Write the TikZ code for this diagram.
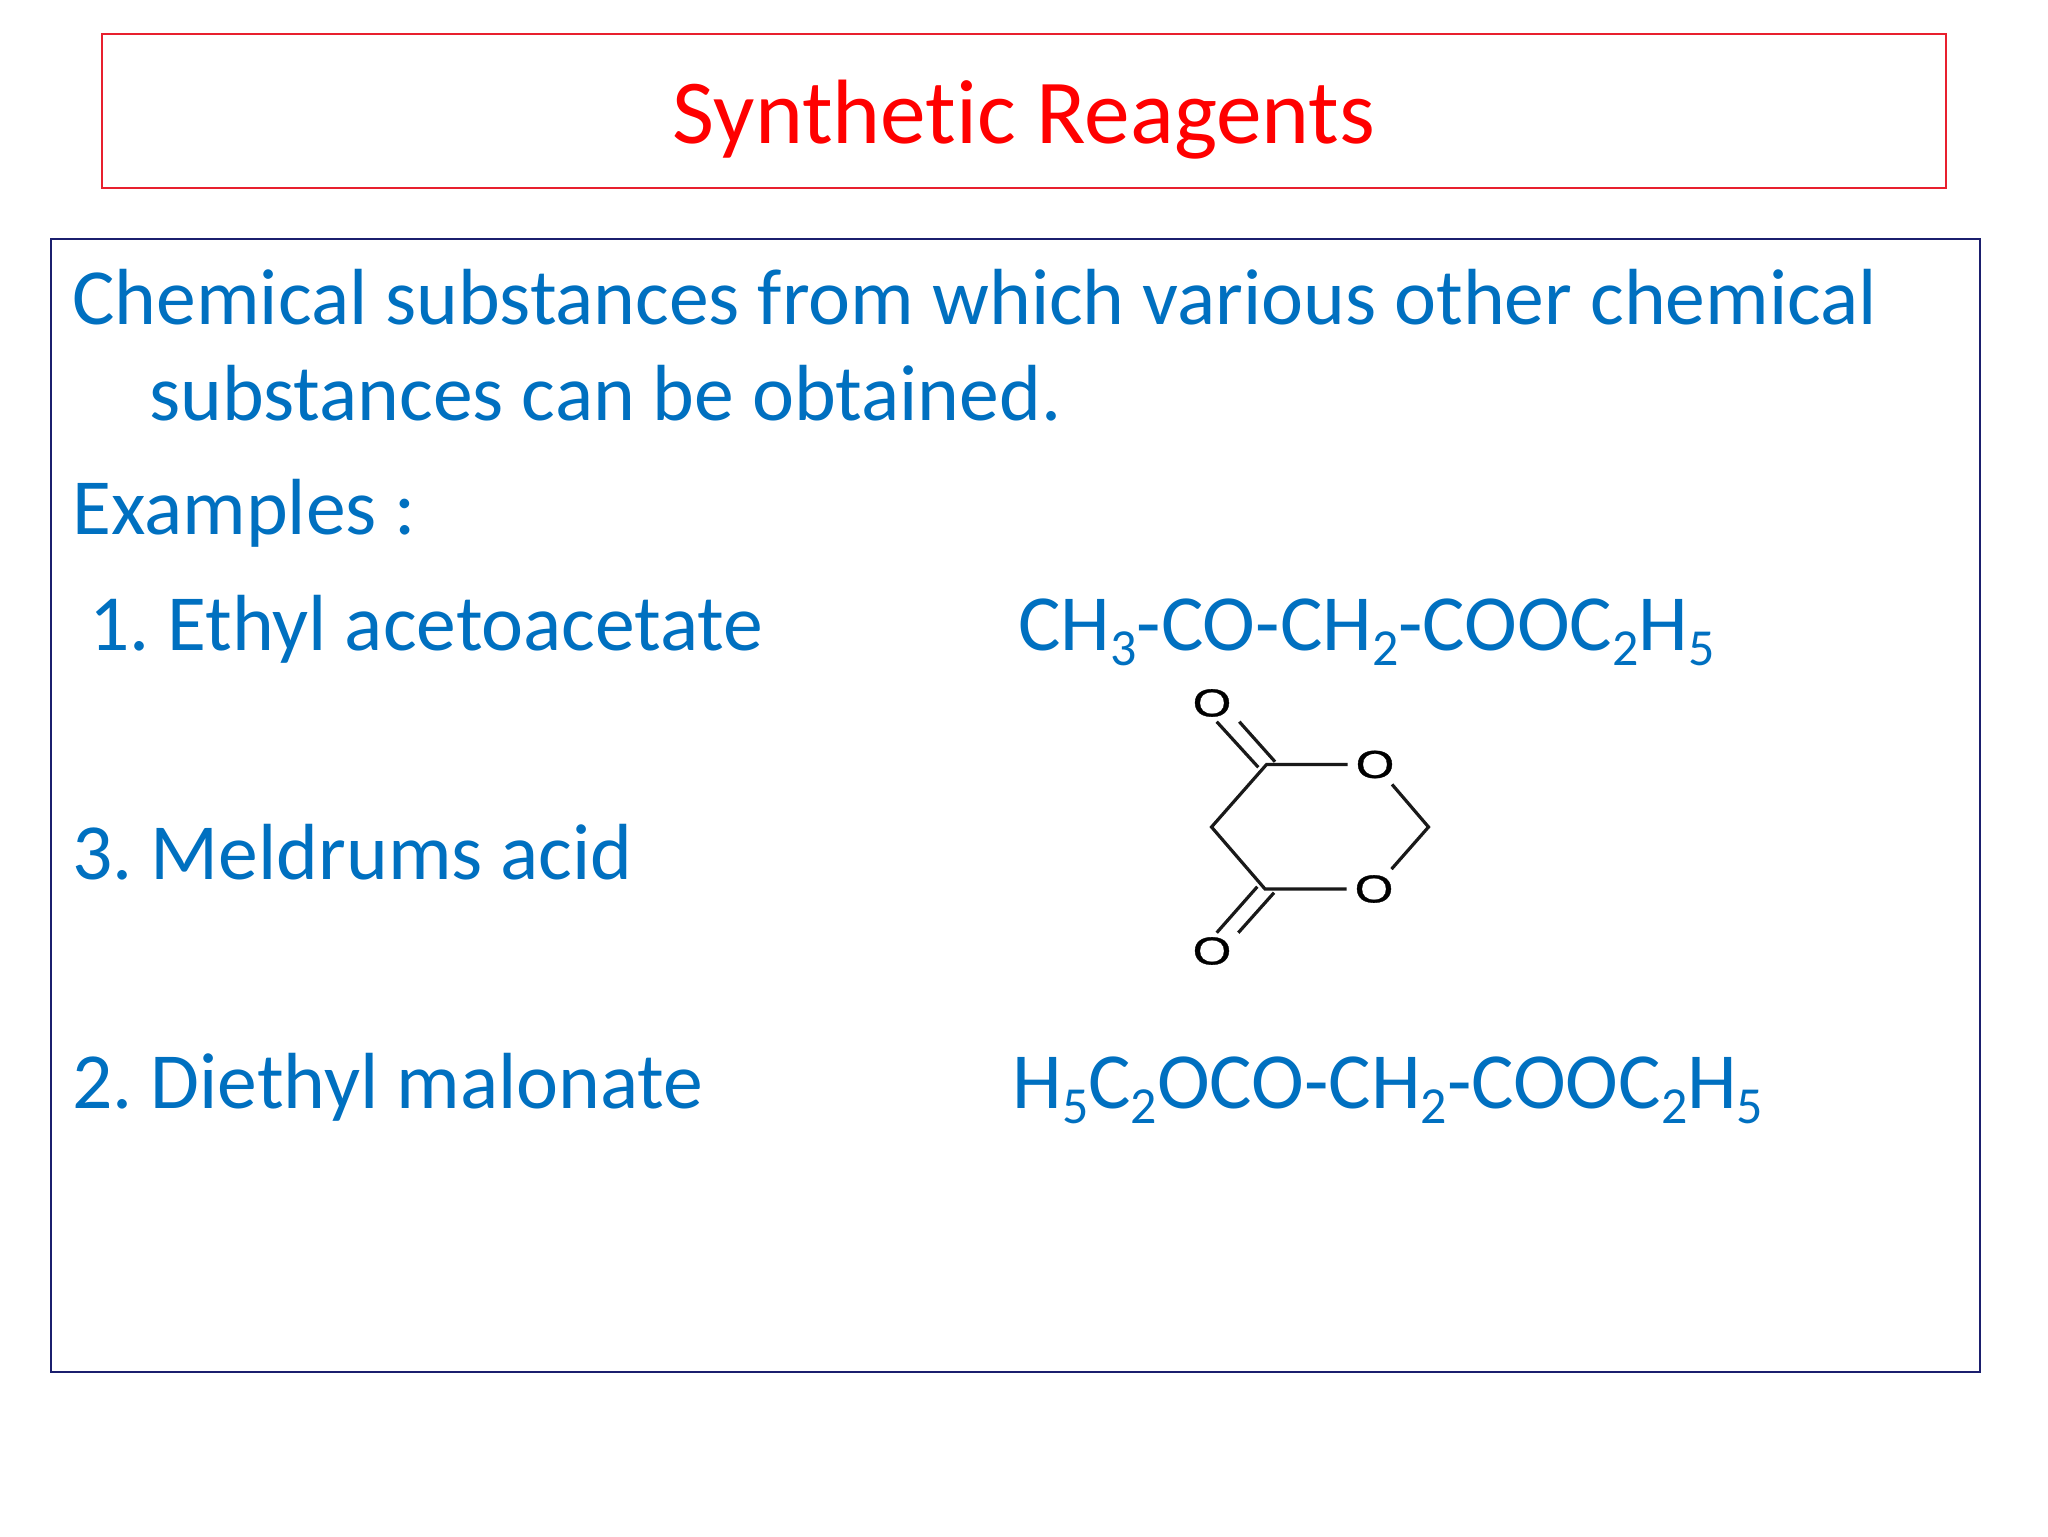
\documentclass[tikz,border=0pt]{standalone}
\usepackage{fontspec}
\usepackage{graphicx}
\setmainfont[Ligatures={NoCommon,TeX}]{Carlito}
\newfontfamily\atomfont[FakeBold=0.8]{Liberation Sans}
\definecolor{bluetext}{HTML}{0070C0}
\definecolor{titlered}{HTML}{FF0000}
\definecolor{boxred}{HTML}{E8202E}
\definecolor{boxnavy}{HTML}{1B1F6E}
\newcommand{\sbs}[1]{\raisebox{-0.2em}{\fontsize{26}{26}\selectfont #1}}
\frenchspacing
\tikzset{
  px/.style={x=0.5pt,y=-0.5pt},
  bodytext/.style={anchor=base west,inner sep=0pt,text=bluetext,font=\fontsize{39.8}{39.8}\selectfont},
  titletext/.style={anchor=base,inner sep=0pt,text=titlered,font=\fontsize{45.7}{45.7}\selectfont},
  atom/.style={inner sep=0pt,minimum width=27pt,minimum height=19.5pt,font=\atomfont\fontsize{19.5}{19.5}\selectfont},
  bond/.style={line width=1.6pt,draw=black!90}
}
\begin{document}
\begin{tikzpicture}[px]
\useasboundingbox (0,0) rectangle (2048,1536);
\fill[white] (0,0) rectangle (2048,1536);
\draw[draw=boxred,line width=1pt] (102,34) rectangle (1946,188);
\draw[draw=boxnavy,line width=1pt] (51,239) rectangle (1980,1372);
\node[titletext] (title) at (1024,143) {Synthetic Reagents};
\node[bodytext] (l1) at (72,324) {Chemical substances from which various other chemical};
\node[bodytext] (l2) at (149,420) {substances can be obtained.};
\node[bodytext] (l3) at (72,534) {Examples :};
\node[bodytext] (i1) at (89,650) {1. Ethyl acetoacetate};
\node[bodytext] (f1) at (1018,650) {CH\sbs{3}-CO-CH\sbs{2}-COOC\sbs{2}H\sbs{5}};
\node[bodytext] (i3) at (72,879) {3. Meldrums acid};
\node[bodytext] (i2) at (72,1108) {2. Diethyl malonate};
\node[bodytext] (f2) at (1012,1108) {H\sbs{5}C\sbs{2}OCO-CH\sbs{2}-COOC\sbs{2}H\sbs{5}};
% molecule
\node[atom] (o1) at (1212,703) {\scalebox{1.27}[1]{O}};
\node[atom] (o2) at (1375,764.5) {\scalebox{1.27}[1]{O}};
\node[atom] (o3) at (1374,889) {\scalebox{1.27}[1]{O}};
\node[atom] (o4) at (1212,951) {\scalebox{1.27}[1]{O}};
\coordinate (c1) at (1266.5,764.5);
\coordinate (c2) at (1428.5,827);
\coordinate (c3) at (1265,889);
\coordinate (c4) at (1211.5,827);
\coordinate (d1a) at (1216.7,721.7);
\coordinate (d1b) at (1258.3,767.3);
\coordinate (d2a) at (1239.3,721.7);
\coordinate (d2b) at (1275,761.7);
\coordinate (d3a) at (1216.7,932.7);
\coordinate (d3b) at (1257.3,886.7);
\coordinate (d4a) at (1238.3,932.7);
\coordinate (d4b) at (1274,892.7);
\draw[bond] (o2) -- (c1) -- (c4) -- (c3) -- (o3);
\draw[bond] (o2) -- (c2) -- (o3);
\draw[bond] (d1a) -- (d1b);
\draw[bond] (d2a) -- (d2b);
\draw[bond] (d3a) -- (d3b);
\draw[bond] (d4a) -- (d4b);
\end{tikzpicture}
\end{document}
